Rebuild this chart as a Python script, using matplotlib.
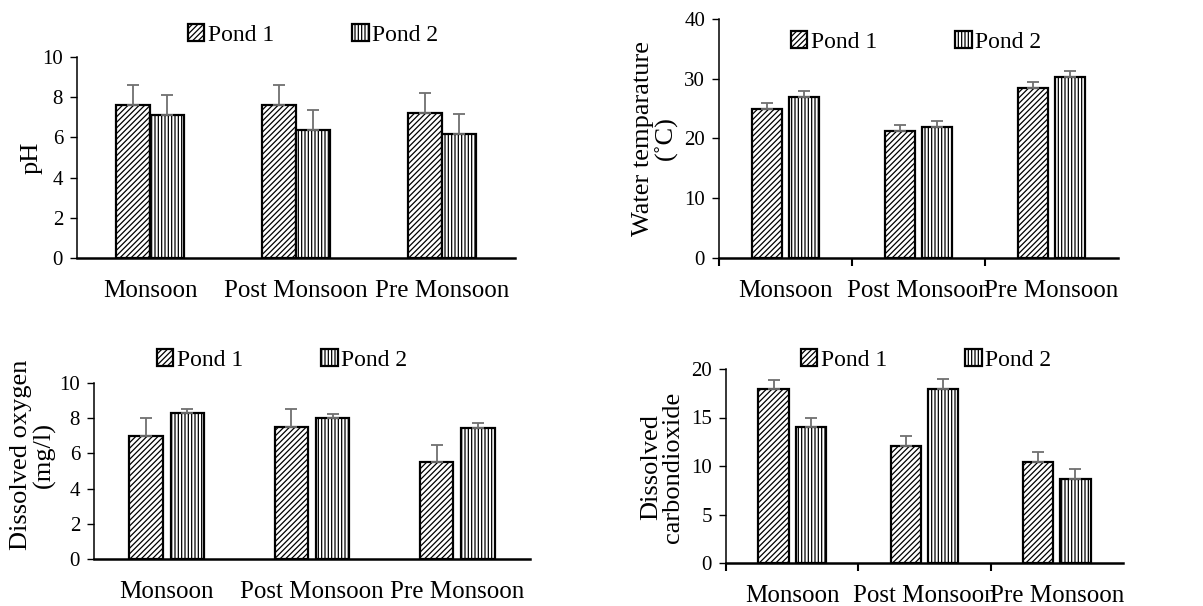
import matplotlib
matplotlib.use('Agg')
import matplotlib.pyplot as plt
import numpy as np

plt.rcParams['font.family'] = ['Liberation Serif', 'DejaVu Serif']
plt.rcParams['hatch.linewidth'] = 0.9

seasons = ['Monsoon', 'Post Monsoon', 'Pre Monsoon']
series = ['Pond 1', 'Pond 2']

ph_p1 = [7.6, 7.6, 7.2]
ph_p2 = [7.1, 6.35, 6.15]
ph_err1 = [1.0, 1.0, 1.0]
ph_err2 = [1.0, 1.0, 1.0]

temp_p1 = [25.0, 21.3, 28.5]
temp_p2 = [27.0, 22.0, 30.3]
temp_err1 = [1.0, 1.0, 1.0]
temp_err2 = [1.0, 1.0, 1.0]

do_p1 = [7.0, 7.5, 5.5]
do_p2 = [8.3, 8.0, 7.45]
do_err1 = [1.0, 1.0, 1.0]
do_err2 = [0.25, 0.25, 0.25]

co2_p1 = [17.9, 12.1, 10.4]
co2_p2 = [14.0, 17.95, 8.65]
co2_err1 = [1.0, 1.0, 1.0]
co2_err2 = [1.0, 1.0, 1.0]

W, H = 1203, 606
fig = plt.figure(figsize=(W / 100, H / 100), dpi=100)


def add_ax(left, right, top, bottom):
    return fig.add_axes([left / W, 1 - bottom / H, (right - left) / W, (bottom - top) / H])


def panel(ax, v1, v2, e1, e2, ymax, ystep, width, gap, boundary_ticks):
    x = np.arange(len(seasons))
    off = width / 2 + gap / 2
    ekw = dict(ecolor='#707070', elinewidth=1.3, capsize=4, capthick=1.3)
    ax.bar(x - off, v1, width, color='white', edgecolor='black', linewidth=1.6,
           hatch='//////', label=series[0], yerr=[np.zeros(3), e1], error_kw=ekw)
    ax.bar(x + off, v2, width, color='white', edgecolor='black', linewidth=1.6,
           hatch='|||||', label=series[1], yerr=[np.zeros(3), e2], error_kw=ekw)
    ax.set_xlim(-0.5, 2.5)
    ax.set_ylim(0, ymax)
    ax.set_yticks(np.arange(0, ymax + 0.1, ystep))
    ax.set_xticks(x)
    ax.set_xticklabels(seasons, fontsize=18)
    ax.tick_params(axis='y', labelsize=15, length=5, width=1, direction='out', pad=5)
    ax.tick_params(axis='x', which='major', length=0, pad=16)
    if boundary_ticks:
        ax.set_xticks([-0.5, 0.5, 1.5], minor=True)
        ax.tick_params(axis='x', which='minor', length=6, width=1.5, direction='out')
    for s in ['top', 'right']:
        ax.spines[s].set_visible(False)
    ax.spines['left'].set_linewidth(1.1)
    ax.spines['bottom'].set_linewidth(1.8)
    ax.set_axisbelow(False)


def legend(ax, cx, cy):
    ax.legend(loc='center', bbox_to_anchor=(cx / W, 1 - cy / H), bbox_transform=fig.transFigure,
              ncol=2, frameon=False, fontsize=17, handlelength=0.7, handleheight=0.7,
              handletextpad=0.15, columnspacing=3.3, borderaxespad=0)


ax1 = add_ax(77, 515, 57, 258)
panel(ax1, ph_p1, ph_p2, ph_err1, ph_err2, 10, 2, 0.236, 0.0, False)
legend(ax1, 313, 35)
fig.text(32 / W, 1 - 158 / H, 'pH', rotation=90, ha='center', va='center', fontsize=19)

ax2 = add_ax(719, 1118, 19, 258)
panel(ax2, temp_p1, temp_p2, temp_err1, temp_err2, 40, 10, 0.226, 0.053, True)
legend(ax2, 916, 42)
fig.text(655 / W, 1 - 138 / H, 'Water temparature\n(˚C)', rotation=90, ha='center', va='center',
         fontsize=19, linespacing=1.0)

ax3 = add_ax(94, 530, 383, 559)
panel(ax3, do_p1, do_p2, do_err1, do_err2, 10, 2, 0.23, 0.055, False)
legend(ax3, 282, 360)
fig.text(33 / W, 1 - 455 / H, 'Dissolved oxygen\n(mg/l)', rotation=90, ha='center', va='center',
         fontsize=19, linespacing=1.0)

ax4 = add_ax(726, 1123, 369, 563)
panel(ax4, co2_p1, co2_p2, co2_err1, co2_err2, 20, 5, 0.23, 0.052, True)
legend(ax4, 926, 360)
fig.text(662 / W, 1 - 467 / H, 'Dissolved\ncarbondioxide', rotation=90, ha='center', va='center',
         fontsize=19, linespacing=1.0)

plt.savefig('out.png', dpi=100)
plt.close()
